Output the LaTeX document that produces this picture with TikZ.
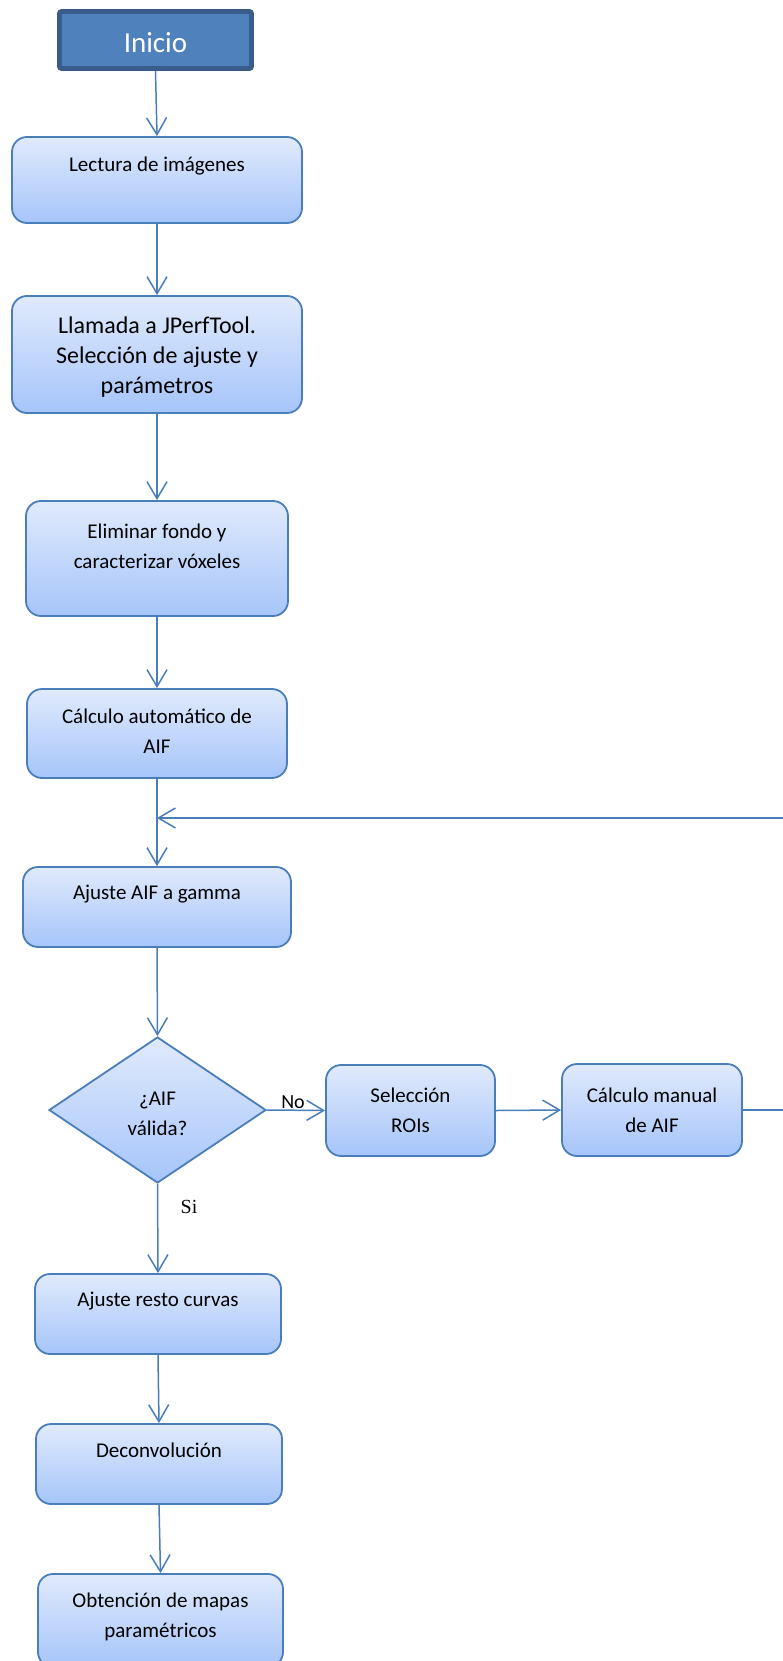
\documentclass[tikz,border=0pt]{standalone}
\usepackage{fontspec}
\setmainfont{Carlito}
\newfontfamily\timesf{Liberation Serif}
\usetikzlibrary{arrows.meta,shapes.geometric}
\definecolor{lineblue}{RGB}{74,126,187}
\definecolor{boxtop}{RGB}{224,234,252}
\definecolor{boxbot}{RGB}{166,197,250}
\definecolor{startfill}{RGB}{79,129,189}
\definecolor{startdraw}{RGB}{56,93,138}
\tikzset{
  startbox/.style={draw=startdraw, line width=4.7pt, fill=startfill, rounded corners=2pt,
    text=white, font=\fontsize{29}{34}\selectfont, inner sep=0pt, text height=25pt, text depth=0pt},
  procbox/.style={draw=lineblue, line width=1.8pt, rounded corners=15pt,
    top color=boxtop, bottom color=boxbot, inner sep=0pt,
    font=\fontsize{21}{30}\selectfont, align=center, text=black},
  decbox/.style={diamond, draw=lineblue, line width=1.8pt, line join=miter,
    top color=boxtop, bottom color=boxbot, inner sep=0pt},
  boxtext/.style={font=\fontsize{21}{30}\selectfont, align=center, inner sep=0pt, text=black, anchor=center},
  bigtext/.style={font=\fontsize{24}{30}\selectfont, align=center, inner sep=0pt, text=black, anchor=center},
  nolabel/.style={font=\fontsize{20}{24}\selectfont, inner sep=0pt, text=black},
  silabel/.style={font=\timesf\fontsize{20}{24}\selectfont, inner sep=0pt, text=black},
  arr/.style={draw=lineblue, line width=1.5pt, -{Straight Barb[length=17pt,width=20pt]}},
}
\begin{document}
\begin{tikzpicture}[x=1pt,y=-1pt]
\useasboundingbox (0,0) rectangle (783,1661);
\clip (0,0) rectangle (783,1661);

\node[startbox, minimum width=192pt, minimum height=57pt] (ini) at (155.5,40) {Inicio};

\node[procbox, minimum width=290pt, minimum height=86pt,
  label={[boxtext, yshift=-30pt]north:Lectura de imágenes}] (lect) at (157,180) {};
\node[procbox, minimum width=290pt, minimum height=117pt,
  label={[bigtext, yshift=-62pt]north:Llamada a JPerfTool.\\Selección de ajuste y\\parámetros}] (llam) at (157,354.5) {};
\node[procbox, minimum width=262pt, minimum height=115pt,
  label={[boxtext, yshift=-46pt]north:Eliminar fondo y\\caracterizar vóxeles}] (elim) at (157,558.5) {};
\node[procbox, minimum width=260pt, minimum height=89pt,
  label={[boxtext, yshift=-43.5pt]north:Cálculo automático de\\AIF}] (auto) at (157,733.5) {};
\node[procbox, minimum width=268pt, minimum height=80pt,
  label={[boxtext, yshift=-28pt]north:Ajuste AIF a gamma}] (ajaif) at (157,907) {};
\node[decbox, minimum width=217pt, minimum height=146pt,
  label={[boxtext, yshift=-4pt]center:¿AIF\\válida?}] (dec) at (157.5,1110) {};
\node[procbox, minimum width=169pt, minimum height=91pt] (roi) at (410.5,1110.5) {Selección\\ROIs};
\node[procbox, minimum width=180pt, minimum height=92pt] (man) at (652,1110) {Cálculo manual\\de AIF};
\node[procbox, minimum width=246pt, minimum height=80pt,
  label={[boxtext, yshift=-28pt]north:Ajuste resto curvas}] (resto) at (158,1314) {};
\node[procbox, minimum width=246pt, minimum height=80pt,
  label={[boxtext, yshift=-27pt]north:Deconvolución}] (deconv) at (159,1464) {};
\node[procbox, minimum width=245pt, minimum height=93pt,
  label={[boxtext, yshift=-44pt]north:Obtención de mapas\\paramétricos}] (obt) at (160.5,1620.5) {};

\node[nolabel] (no) at (293,1102.5) {No};
\node[silabel] (si) at (189,1206.5) {Si};

\coordinate (offr) at (800,1110);
\coordinate (fby) at (0,818);
\coordinate (fb) at (auto.south |- fby);

\draw[arr] (ini.south) -- (lect.north);
\draw[arr] (lect.south) -- (llam.north);
\draw[arr] (llam.south) -- (elim.north);
\draw[arr] (elim.south) -- (auto.north);
\draw[arr] (auto.south) -- (ajaif.north);
\draw[arr] (man.east) -- (man.east -| offr) |- (fb);
\draw[arr] (ajaif.south) -- (dec.north);
\draw[arr] (dec.east) -- (roi.west);
\draw[arr] (roi.east) -- (man.west);
\draw[arr] (dec.south) -- (resto.north);
\draw[arr] (resto.south) -- (deconv.north);
\draw[arr] (deconv.south) -- (obt.north);
\end{tikzpicture}
\end{document}
